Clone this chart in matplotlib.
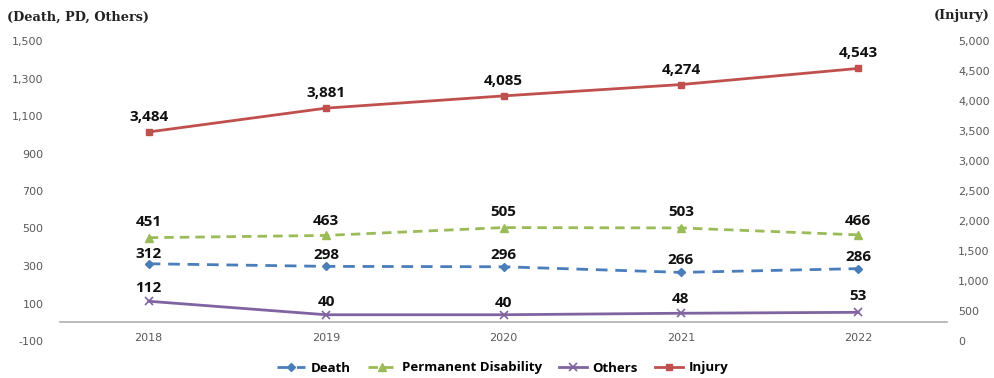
import matplotlib
matplotlib.use("Agg")
import matplotlib.pyplot as plt
from matplotlib.ticker import FuncFormatter
import numpy as np

years = ["2018", "2019", "2020", "2021", "2022"]
death = [312, 298, 296, 266, 286]
disability = [451, 463, 505, 503, 466]
others = [112, 40, 40, 48, 53]
injury = [3484, 3881, 4085, 4274, 4543]

# label offsets (pixels above the point)
death_off = [10, 11, 12, 12, 12]
disab_off = [16, 14, 16, 16, 14]
others_off = [13, 13, 12, 14, 16]
injury_off = [15, 15, 15, 15, 15]

label_font = "Open Sans"
tick_color = "#595959"

fig = plt.figure(figsize=(9.95, 3.78), dpi=100)
ax = fig.add_axes([60 / 995, 37 / 378, 887 / 995, 300 / 378])
ax2 = ax.twinx()

x = np.arange(len(years))

ax.plot(x, death, color="#4a7ebb", lw=2.0, dashes=(4.2, 2.8), marker="D",
        markersize=4.5, zorder=3, label="Death")
ax.plot(x, disability, color="#9bbb59", lw=2.0, dashes=(3.4, 2.2), marker="^",
        markersize=6, zorder=3, label="Permanent Disability")
ax.plot(x, others, color="#8064a2", lw=2.0, marker="x", markersize=6,
        markeredgewidth=1.2, zorder=3, label="Others")
ax2.plot(x, injury, color="#c0504d", lw=2.0, marker="s", markersize=5,
         zorder=3, label="Injury")

def put_labels(axis, vals, offs):
    for xi, v, o in zip(x, vals, offs):
        axis.annotate(f"{v:,}", (xi, v), xytext=(0, o * 0.72),
                      textcoords="offset points", ha="center", va="center",
                      fontsize=11, fontweight="bold", family=label_font,
                      color="#111111")

put_labels(ax, death, death_off)
put_labels(ax, disability, disab_off)
put_labels(ax, others, others_off)
put_labels(ax2, injury, injury_off)

ax.set_xlim(-0.5, len(years) - 0.5)
ax.set_ylim(-100, 1500)
ax.set_yticks(np.arange(-100, 1501, 200))
ax2.set_ylim(0, 5000)
ax2.set_yticks(np.arange(0, 5001, 500))

fmt = FuncFormatter(lambda v, p: f"{int(v):,}")
ax.yaxis.set_major_formatter(fmt)
ax2.yaxis.set_major_formatter(fmt)

ax.set_xticks(x)
ax.set_xticklabels(years)

for a in (ax, ax2):
    for s in a.spines.values():
        s.set_visible(False)
    a.tick_params(length=0, colors=tick_color, labelsize=8)

# category axis crosses the left axis at 0
ax.spines["bottom"].set_visible(True)
ax.spines["bottom"].set_position(("data", 0))
ax.spines["bottom"].set_color("#b0b0b0")
ax.spines["bottom"].set_linewidth(1.2)

ax.tick_params(axis="y", pad=12)
ax2.tick_params(axis="y", pad=8)
ax.tick_params(axis="x", pad=8)
for t in ax2.get_yticklabels():
    t.set_ha("left")

fig.text(7 / 995, 1 - 17 / 378, "(Death, PD, Others)", ha="left", va="center",
         family="DejaVu Serif", fontweight="bold", fontsize=9.3, color="#222222")
fig.text(990 / 995, 1 - 15 / 378, "(Injury)", ha="right", va="center",
         family="DejaVu Serif", fontweight="bold", fontsize=9.3, color="#222222")

h1, l1 = ax.get_legend_handles_labels()
h2, l2 = ax2.get_legend_handles_labels()
fig.legend(h1 + h2, l1 + l2, loc="center", bbox_to_anchor=(503 / 995, 1 - 368 / 378),
           ncol=4, frameon=False, handlelength=2.1, handletextpad=0.45,
           columnspacing=1.3, prop={"family": label_font, "weight": "bold", "size": 9.5})

fig.savefig("out.png", dpi=100)
